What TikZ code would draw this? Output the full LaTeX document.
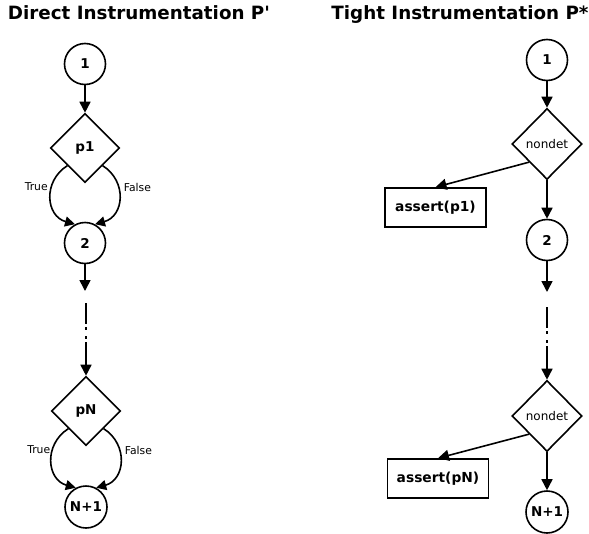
\documentclass[tikz,border=0pt]{standalone}
\usepackage{fontspec}
\setmainfont{DejaVu Sans}
% a face without the TeX quote mapping, so that ' stays straight
\newfontfamily\straightquotes{DejaVu Sans}[Ligatures=ResetAll]
\usetikzlibrary{shapes.geometric,arrows.meta}

\tikzset{
  every path/.style={line width=1.6pt},
  arr/.style={-{Triangle[length=11pt,width=11pt]}},
  loopar/.style={-{Triangle[length=10pt,width=10pt]}},
  dashdotdot/.style={dash pattern=on 21pt off 3pt on 3pt off 6pt on 3pt off 3pt on 40pt},
  state/.style={circle,draw,line width=1.6pt,minimum size=41pt,inner sep=0pt,
    font=\fontsize{13.5}{16}\selectfont\bfseries},
  test/.style={diamond,draw,line width=1.6pt,minimum width=69pt,minimum height=69pt,
    inner sep=0pt,font=\fontsize{13.5}{16}\selectfont\bfseries},
  choice/.style={diamond,draw,line width=1.6pt,minimum width=70pt,minimum height=71pt,
    inner sep=0pt,font=\fontsize{12}{14}\selectfont},
  check/.style={rectangle,draw,line width=1.6pt,minimum width=101pt,minimum height=39pt,
    inner sep=0pt,font=\fontsize{13.8}{16}\selectfont\bfseries},
  branch/.style={font=\fontsize{10.8}{12}\selectfont,inner sep=0pt},
  heading/.style={font=\straightquotes\fontsize{18.3}{22}\selectfont\bfseries,inner sep=0pt,anchor=base}
}

\begin{document}
\begin{tikzpicture}[x=1pt,y=-1pt]
\useasboundingbox (0,0) rectangle (589,533);

% ---------- headings ----------
\node[heading] (tl) at (139,19.5) {Direct Instrumentation P'};
\node[heading] (tr) at (460,19.5) {Tight Instrumentation P*};

% ---------- direct instrumentation ----------
\node[state] (a1) at (85,64) {1};
\node[test]  (ap1) at (85,148) {p1};
\node[state] (a2) at (85,243) {2};
\coordinate (a2end) at (85,291);
\coordinate (adots) at (86,303);
\node[test]  (apN) at (86,411) {pN};
\node[state,minimum size=42pt] (aN) at (86,507) {N+1};

\draw[arr] (a1) -- (ap1);
% the two branches form a round loop from the test into the next state
\draw[loopar] (ap1.south west) .. controls +(-25,16) and +(-29,-8) .. (a2.118);
\draw[loopar] (ap1.south east) .. controls +(25,16) and +(29,-8) .. (a2.62);
\node[branch,anchor=east] (at1) at (48.5,187) {True};
\node[branch,anchor=west] (af1) at (123,187) {False};
\draw[arr] (a2) -- (a2end);
\draw[arr,dashdotdot] (adots) -- (apN);
\draw[loopar] (apN.south west) .. controls +(-25,16) and +(-29,-8) .. (aN.118);
\draw[loopar] (apN.south east) .. controls +(25,16) and +(29,-8) .. (aN.62);
\node[branch,anchor=east] (atN) at (51,450) {True};
\node[branch,anchor=west] (afN) at (124,450) {False};

% ---------- tight instrumentation ----------
\node[state]  (b1) at (547,60) {1};
\node[choice] (bd1) at (547,144) {nondet};
\node[check]  (bc1) at (435.5,207.5) {assert(p1)};
\node[state]  (b2) at (547,240) {2};
\coordinate (b2end) at (547,292);
\coordinate (bdots) at (547,307);
\node[choice] (bdN) at (547,416) {nondet};
\node[check]  (bcN) at (438,478.5) {assert(pN)};
\node[state,minimum size=42pt] (bN) at (547,512) {N+1};

\draw[arr] (b1) -- (bd1);
\draw[arr] (bd1.south west) -- (bc1.north);
\draw[arr] (bd1) -- (b2);
\draw[arr] (b2) -- (b2end);
\draw[arr,dashdotdot] (bdots) -- (bdN);
\draw[arr] (bdN.south west) -- (bcN.north);
\draw[arr] (bdN) -- (bN);
\end{tikzpicture}
\end{document}
